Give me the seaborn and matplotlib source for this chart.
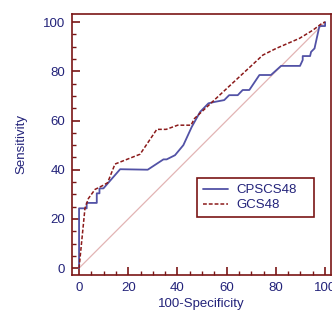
import pandas as pd
import seaborn as sns
import matplotlib.pyplot as plt
from matplotlib.ticker import MultipleLocator

# ROC points (100-Specificity, Sensitivity)
cpscs_x = [0, 0, 3.1, 3.1, 7.2, 7.2, 8.3, 8.3, 9.9, 16.7, 27.9, 34.3, 35.6, 39.0,
           42.4, 45.8, 49.2, 52.6, 55.3, 59.0, 61.0, 64.5, 66.5, 69.2, 73.3, 78.0,
           82.1, 89.8, 90.9, 90.9, 93.9, 94.3, 95.7, 97.7, 100, 100]
cpscs_y = [0, 24.3, 24.3, 26.5, 26.5, 30.4, 30.4, 32.4, 32.4, 40.2, 40.0, 44.2, 44.2, 45.9,
           50.0, 57.4, 63.5, 67.0, 67.6, 68.3, 70.3, 70.3, 72.4, 72.4, 78.5, 78.5,
           82.2, 82.2, 84.6, 86.2, 86.2, 87.9, 89.3, 98.4, 98.4, 100]

gcs_x = [0, 2.4, 3.8, 6.5, 9.9, 11.6, 14.6, 24.8, 31.6, 35.4, 40.1, 45.5, 46.9,
         55.7, 65.2, 74.7, 80.1, 89.6, 95.0, 99.0, 100]
gcs_y = [0, 24.3, 28.3, 32.0, 33.7, 34.7, 42.3, 46.3, 56.4, 56.4, 58.1, 58.1, 60.8,
         69.0, 77.8, 86.6, 89.3, 93.4, 96.7, 99.7, 100]

diag = [0, 100]

df_c = pd.DataFrame({"x": cpscs_x, "y": cpscs_y})
df_g = pd.DataFrame({"x": gcs_x, "y": gcs_y})
df_d = pd.DataFrame({"x": diag, "y": diag})

sns.set_style("white")
plt.rcParams["font.family"] = ["Liberation Sans", "DejaVu Sans"]

maroon = "#7a1515"
navy = "#23237a"

fig = plt.figure(figsize=(3.32, 3.14), dpi=100)
ax = fig.add_axes([0.217, 0.125, 0.78, 0.832])

sns.lineplot(data=df_d, x="x", y="y", ax=ax, color="#e2b4b4", linewidth=0.9,
             sort=False, estimator=None)
sns.lineplot(data=df_c, x="x", y="y", ax=ax, color="#5252a6", linewidth=1.3,
             sort=False, estimator=None, label="CPSCS48")
sns.lineplot(data=df_g, x="x", y="y", ax=ax, color="#8b1a1a", linewidth=1.1,
             linestyle=(0, (2.5, 1.3)), sort=False, estimator=None, label="GCS48")

ax.set_xlim(-2.85, 102.4)
ax.set_ylim(-2.7, 103.5)
ax.xaxis.set_major_locator(MultipleLocator(20))
ax.xaxis.set_minor_locator(MultipleLocator(5))
ax.yaxis.set_major_locator(MultipleLocator(20))
ax.yaxis.set_minor_locator(MultipleLocator(5))
ax.tick_params(which="major", direction="in", length=6, width=1.2, color=maroon,
               labelcolor=navy, labelsize=9.5, pad=5, bottom=True, left=True)
ax.tick_params(which="minor", direction="in", length=3, width=1.0, color=maroon,
               bottom=True, left=True)

for s in ax.spines.values():
    s.set_color(maroon)
    s.set_linewidth(1.2)

ax.set_xlabel("100-Specificity", color=navy, fontsize=9.5, labelpad=3)
ax.set_ylabel("Sensitivity", color=navy, fontsize=9.5, labelpad=11)

# legend box stretched to the width seen in the reference
leg = ax.legend(loc="upper left", bbox_to_anchor=(0.483, 0.225, 0.451, 0.145),
                mode="expand", borderaxespad=0,
                fancybox=False, framealpha=1, edgecolor=maroon, fontsize=9.5,
                handlelength=1.9, handletextpad=0.6, borderpad=0.45, labelspacing=0.2)
leg.get_frame().set_linewidth(1.2)
for t in leg.get_texts():
    t.set_color(navy)

plt.savefig("out.png", dpi=100)
